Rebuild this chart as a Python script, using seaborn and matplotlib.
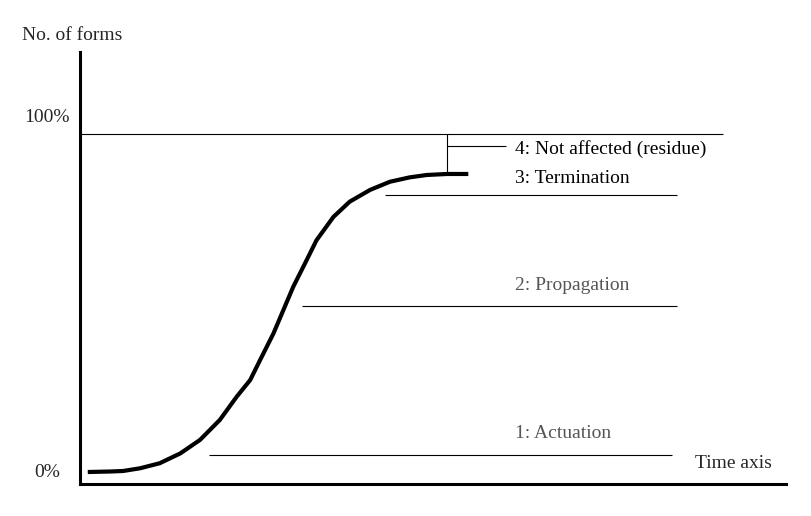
import matplotlib
matplotlib.use("Agg")
import matplotlib.pyplot as plt
import pandas as pd
import seaborn as sns

# S-curve: time (arbitrary units) vs share of forms (%)
time = [1.1, 4.3, 6.1, 8.5, 11.3, 14.2, 17.0, 19.8, 22.2, 24.1, 25.5, 27.4,
        28.8, 30.2, 32.1, 33.5, 35.9, 38.2, 41.1, 43.9, 46.7, 49.1, 52.0, 55.0]
share = [0.0, 0.15, 0.3, 1.1, 2.6, 5.5, 9.5, 15.4, 22.3, 27.2, 33.1, 41.0,
         47.9, 54.8, 62.7, 68.6, 75.5, 80.0, 83.5, 85.9, 87.2, 87.9, 88.2, 88.2]

# stage lines: (level %, start time, end time)
stage_names = ["1: Actuation", "2: Propagation", "3: Termination", "4: Not affected (residue)"]
stage_levels = [5.0, 49.1, 82.0]
stage_starts = [18.3, 31.4, 43.2]
stage_ends = [83.9, 84.6, 84.6]
label_levels = [11.5, 55.3, 87.0, 95.6]
label_colors = ["#555555", "#555555", "black", "black"]

full_level = 100
full_end = 91.1
residue_x = 52.0
residue_level = 96.4
residue_end = 60.3

df = pd.DataFrame({"Time": time, "Share": share})

sns.set_style("white")
plt.rcParams["font.family"] = ["Liberation Serif", "DejaVu Serif"]
fs = 14

fig = plt.figure(figsize=(8.11, 5.16), dpi=100)
ax = fig.add_axes([80 / 811, 32 / 516, 706 / 811, 432 / 516])

sns.lineplot(data=df, x="Time", y="Share", color="black", linewidth=3, ax=ax,
             solid_joinstyle="round", solid_capstyle="butt")

ax.hlines(full_level, 0, full_end, color="black", linewidth=0.8)
ax.hlines(stage_levels, stage_starts, stage_ends, color="black", linewidth=0.8)
ax.vlines(residue_x, share[-1] + 0.6, full_level, color="black", linewidth=0.8)
ax.hlines(residue_level, residue_x, residue_end, color="black", linewidth=0.8)

for name, lvl, col in zip(stage_names, label_levels, label_colors):
    ax.text(61.6, lvl, name, color=col, fontsize=fs, va="center", ha="left")

ax.text(87.1, 2.4, "Time axis", fontsize=fs, va="center", ha="left")
ax.text(-8.2, 129.3, "No. of forms", fontsize=fs, va="center", ha="left", clip_on=False)
ax.text(-1.4, 105.0, "100%", fontsize=fs, va="center", ha="right", clip_on=False)
ax.text(-2.8, 0.0, "0%", fontsize=fs, va="center", ha="right", clip_on=False)

ax.set_xlim(0, 100)
ax.set_ylim(-3.55, 124.3)
ax.set_xticks([])
ax.set_yticks([])
ax.set_xlabel("")
ax.set_ylabel("")
sns.despine(ax=ax)
for s in ["left", "bottom"]:
    ax.spines[s].set_linewidth(2.2)
    ax.spines[s].set_color("black")

fig.savefig("out.png", dpi=100, facecolor="white")
